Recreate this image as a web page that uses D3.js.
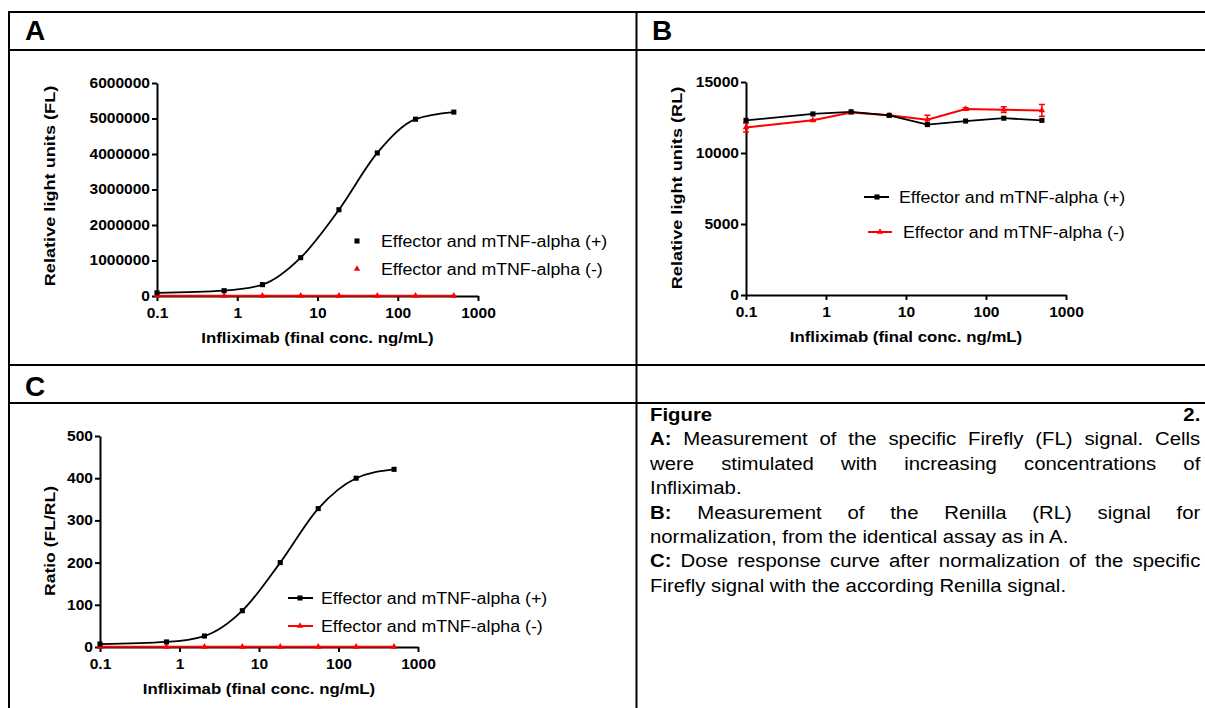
<!DOCTYPE html>
<html>
<head>
<meta charset="utf-8">
<script src="https://cdn.jsdelivr.net/npm/d3@7"></script>
<style>
body { margin: 0; background: #fff; font-family: "Liberation Sans", Arial, sans-serif; }
svg { position: absolute; left: 0; top: 0; }
#caption { position: absolute; left: 650px; top: 403px; width: 487px; transform: scaleX(1.13); transform-origin: 0 0;
  font-size: 18px; line-height: 24.4px; color: #000; }
#caption div { text-align: justify; }
#caption div.j { text-align-last: justify; }
</style>
</head>
<body>
<script>
// concentrations (3-fold dilution, blank plotted at 0.1)
const conc = [0.1, 0.686, 2.06, 6.17, 18.5, 55.6, 166.7, 500];
const flPos = [90000, 150000, 320000, 1080000, 2430000, 4030000, 4980000, 5180000];
const flNeg = [5000, 5000, 5000, 5000, 5000, 5000, 5000, 5000];
const rlPos = [12300, 12750, 12900, 12650, 12000, 12250, 12450, 12300];
const rlNeg = [11800, 12300, 12850, 12650, 12350, 13100, 13050, 13000];
const rlNegErr = [320, 40, 40, 40, 300, 90, 200, 420];
const ratioPos = [7, 12, 26, 86, 200, 328, 400, 421];
const ratioNeg = [0.5, 0.5, 0.5, 0.5, 0.5, 0.5, 0.5, 0.5];

const xTicks = [0.1, 1, 10, 100, 1000];
const seriesNames = ['Effector and mTNF-alpha (+)', 'Effector and mTNF-alpha (-)'];
const xTitle = 'Infliximab (final conc. ng/mL)';

const captionLines = [
  ['Figure 2.', '', true],
  ['A:', ' Measurement of the specific Firefly (FL) signal. Cells', true],
  ['', 'were stimulated with increasing concentrations of', true],
  ['', 'Infliximab.', false],
  ['B:', ' Measurement of the Renilla (RL) signal for', true],
  ['', 'normalization, from the identical assay as in A.', false],
  ['C:', ' Dose response curve after normalization of the specific', true],
  ['', 'Firefly signal with the according Renilla signal.', false]
];

const RED = '#ff0000';
const svg = d3.select('body').append('svg').attr('width', 1205).attr('height', 708);

// stretch text along its direction (source font is wider than Arial)
function widen(sel, k) {
  sel.each(function() {
    const w = this.getComputedTextLength();
    d3.select(this).attr('textLength', w * k).attr('lengthAdjust', 'spacingAndGlyphs');
  });
}

// table grid
const hl = [12, 50, 365, 403];
hl.forEach(y => svg.append('line').attr('x1', 9).attr('x2', 1205).attr('y1', y).attr('y2', y)
  .attr('stroke', '#000').attr('stroke-width', 2));
[9, 636.5].forEach(x => svg.append('line').attr('x1', x).attr('x2', x).attr('y1', 11).attr('y2', 708)
  .attr('stroke', '#000').attr('stroke-width', 2));

[['A', 25, 40], ['B', 652, 40], ['C', 25, 396]].forEach(d => {
  svg.append('text').attr('x', d[1]).attr('y', d[2]).text(d[0])
    .attr('font-size', 28).attr('font-weight', 'bold');
});

const sq = d3.symbol().type(d3.symbolSquare).size(26);
const tri = d3.symbol().type(d3.symbolTriangle).size(18);

function panel(o) {
  const x = d3.scaleLog().domain([0.1, 1000]).range(o.xr);
  const y = d3.scaleLinear().domain([0, o.ymax]).range(o.yr);
  const g = svg.append('g');

  const xa = g.append('g').attr('transform', `translate(0,${o.yr[0]})`)
    .call(d3.axisBottom(x).tickValues(xTicks).tickFormat(d => d).tickSize(5).tickSizeOuter(0).tickPadding(7));
  const ya = g.append('g').attr('transform', `translate(${o.xr[0]},0)`)
    .call(d3.axisLeft(y).tickValues(o.yTicks).tickFormat(d3.format('d')).tickSize(5).tickSizeOuter(0).tickPadding(2));
  [xa, ya].forEach(a => {
    a.select('.domain').attr('stroke-width', 2);
    a.selectAll('.tick line').attr('stroke-width', 2);
    a.selectAll('text').attr('font-size', 14).attr('font-weight', 'bold')
      .attr('font-family', '"Liberation Sans", Arial, sans-serif').attr('fill', '#000');
    widen(a.selectAll('text'), 1.11);
  });

  g.append('text').attr('x', (o.xr[0] + o.xr[1]) / 2).attr('y', o.yr[0] + 47)
    .attr('text-anchor', 'middle').attr('font-size', 15).attr('font-weight', 'bold').text(xTitle)
    .call(widen, 1.12);
  g.append('text').attr('transform', `translate(${o.yTitleX},${o.yTitleY}) rotate(-90)`)
    .attr('text-anchor', 'middle').attr('dy', '0.35em').attr('font-size', 15.5).attr('font-weight', 'bold')
    .text(o.yTitle).call(widen, o.yTitleK);

  const pts = (vals) => conc.map((c, i) => [x(c), y(vals[i])]);

  // (-) series
  const pn = pts(o.neg);
  g.append('path').attr('d', d3.line()(pn)).attr('fill', 'none').attr('stroke', RED).attr('stroke-width', 2);
  if (o.negErr) {
    conc.forEach((c, i) => {
      const cx = x(c), y0 = y(o.neg[i] - o.negErr[i]), y1 = y(o.neg[i] + o.negErr[i]);
      g.append('path').attr('d', `M${cx},${y0}V${y1}M${cx - 3},${y0}H${cx + 3}M${cx - 3},${y1}H${cx + 3}`)
        .attr('stroke', RED).attr('stroke-width', 1.5).attr('fill', 'none');
    });
  }
  g.selectAll('.tn').data(pn).join('path').attr('transform', d => `translate(${d[0]},${d[1]})`)
    .attr('d', tri).attr('fill', RED);

  // (+) series
  const pp = pts(o.pos);
  g.append('path').attr('d', d3.line().curve(o.curve)(pp)).attr('fill', 'none').attr('stroke', '#000').attr('stroke-width', 1.8);
  g.selectAll('.sp').data(pp).join('path').attr('transform', d => `translate(${d[0]},${d[1]})`)
    .attr('d', sq).attr('fill', '#000');

  // legend
  o.leg.forEach((L, i) => {
    const col = i === 0 ? '#000' : RED;
    if (L.line) g.append('line').attr('x1', L.lx[0]).attr('x2', L.lx[1]).attr('y1', L.y).attr('y2', L.y)
      .attr('stroke', col).attr('stroke-width', 2);
    g.append('path').attr('transform', `translate(${L.mx},${L.y})`).attr('d', i === 0 ? sq : tri).attr('fill', col);
    g.append('text').attr('x', L.tx).attr('y', L.y).attr('dy', '0.36em').attr('font-size', 16)
      .text(seriesNames[i]).call(widen, 1.11);
  });
}

panel({
  xr: [157, 478], yr: [296, 83], ymax: 6000000,
  yTicks: [0, 1000000, 2000000, 3000000, 4000000, 5000000, 6000000],
  yTitle: 'Relative light units (FL)', yTitleX: 50, yTitleY: 186, yTitleK: 1.17,
  pos: flPos, neg: flNeg, curve: d3.curveMonotoneX,
  leg: [{ line: false, mx: 357, y: 241, tx: 381 }, { line: false, mx: 357, y: 269, tx: 381 }]
});

panel({
  xr: [746, 1066], yr: [295, 82], ymax: 15000,
  yTicks: [0, 5000, 10000, 15000],
  yTitle: 'Relative light units (RL)', yTitleX: 677, yTitleY: 188, yTitleK: 1.17,
  pos: rlPos, neg: rlNeg, negErr: rlNegErr, curve: d3.curveLinear,
  leg: [{ line: true, lx: [864, 889], mx: 877, y: 197, tx: 899 }, { line: true, lx: [868, 892], mx: 880, y: 232, tx: 903 }]
});

panel({
  xr: [100, 418], yr: [647, 436], ymax: 500,
  yTicks: [0, 100, 200, 300, 400, 500],
  yTitle: 'Ratio (FL/RL)', yTitleX: 50, yTitleY: 541, yTitleK: 1.13,
  pos: ratioPos, neg: ratioNeg, curve: d3.curveMonotoneX,
  leg: [{ line: true, lx: [288, 313], mx: 300, y: 598, tx: 321 }, { line: true, lx: [288, 313], mx: 300, y: 626, tx: 321 }]
});

// caption
const cap = d3.select('body').append('div').attr('id', 'caption');
captionLines.forEach(l => {
  const d = cap.append('div').classed('j', l[2]);
  if (l[0]) d.append('b').text(l[0]);
  if (l[1]) d.append('span').text(l[1]);
});
</script>
</body>
</html>
